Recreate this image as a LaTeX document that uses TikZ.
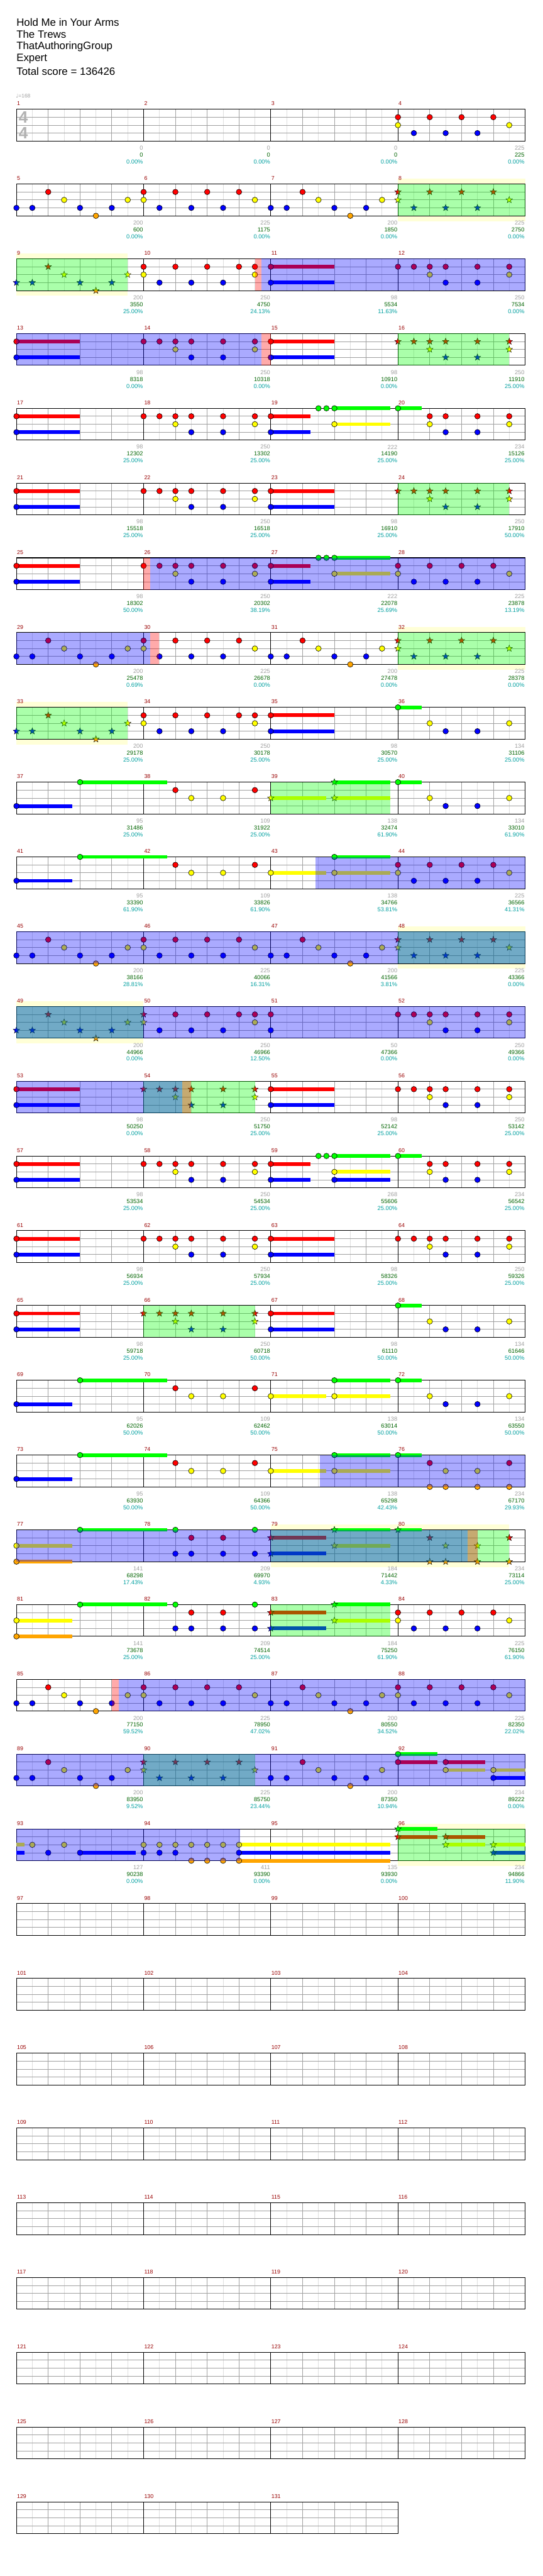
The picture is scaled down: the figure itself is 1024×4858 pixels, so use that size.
\documentclass[tikz,border=0pt]{standalone}
\usepackage{fontspec}
\setmainfont{Liberation Sans}
\newfontfamily\symbfont{DejaVu Sans}

\definecolor{ln0}{RGB}{0,255,0}
\definecolor{ln1}{RGB}{255,0,0}
\definecolor{ln2}{RGB}{255,255,0}
\definecolor{ln3}{RGB}{0,0,255}
\definecolor{ln4}{RGB}{255,165,0}
\definecolor{barnum}{RGB}{153,0,0}
\definecolor{statgray}{RGB}{160,160,160}
\definecolor{statgreen}{RGB}{0,100,0}
\definecolor{statcyan}{RGB}{0,160,160}
\definecolor{gridbeat}{RGB}{160,160,160}
\definecolor{gridhalf}{RGB}{222,222,222}
\definecolor{bandyellow}{RGB}{255,255,215}

\tikzset{
  note/.style={draw=black, line width=0.7pt},
  starnt/.style={draw=black, line width=0.5pt},
  barno/.style={text=barnum, inner sep=0pt, anchor=west, font=\fontsize{10.5}{12}\selectfont},
  statg/.style={text=statgray, inner sep=0pt, anchor=east, font=\fontsize{11}{12}\selectfont},
  stats/.style={text=statgreen, inner sep=0pt, anchor=east, font=\fontsize{11}{12}\selectfont},
  statp/.style={text=statcyan, inner sep=0pt, anchor=east, font=\fontsize{11}{12}\selectfont},
  songinfo/.style={anchor=west, inner sep=0pt, font=\fontsize{20}{24}\selectfont},
}

\newif\ifstarmode
% measure, position in eighths -> \px, \ty (row top)
\newcommand\where[2]{%
  \pgfmathtruncatemacro\rk{div(#1-1,4)}%
  \pgfmathsetmacro\px{31+240*(#1-1-4*\rk)+30*(#2)}%
  \pgfmathsetmacro\ty{206+141*\rk}}
\newcommand\starnote[3]{%
  \filldraw[starnt, fill=#3, shift={(#1,#2)}] (90:6.5pt) -- (126:2.7pt) -- (162:6.5pt)
    -- (198:2.7pt) -- (234:6.5pt) -- (270:2.7pt) -- (306:6.5pt) -- (342:2.7pt)
    -- (18:6.5pt) -- (54:2.7pt) -- cycle;}
% notes: measure, lane, positions
\newcommand\nts[3]{%
  \foreach \p in {#3}{%
    \where{#1}{\p}%
    \pgfmathsetmacro\ny{\ty+15*#2}%
    \ifstarmode\starnote{\px}{\ny}{ln#2}%
    \else\filldraw[note, fill=ln#2] (\px,\ny) circle[radius=5.2pt];\fi}}
% sustain: measure, lane, from, to
\newcommand\sus[4]{%
  \where{#1}{#3}\let\xa\px\where{#1}{#4}\let\xb\px
  \pgfmathsetmacro\ny{\ty+15*#2}%
  \fill[ln#2] (\xa,\ny-3.5) rectangle (\xb,\ny+3.5);}
\newcommand\zone[4]{%
  \where{#2}{#3}\let\xa\px\where{#2}{#4}\let\xb\px
  \fill[#1, opacity=0.333] (\xa,\ty) rectangle (\xb,\ty+60);}
\newcommand\gzone{\zone{ln0}}
\newcommand\bzone{\zone{ln3}}
\newcommand\rzone{\zone{ln1}}
\newcommand\band[3]{%
  \where{#1}{#2}\let\xa\px\where{#1}{#3}\let\xb\px
  \fill[bandyellow] (\xa,\ty-10) rectangle (\xb,\ty+70);}
% staff: row, number of measures
\newcommand\staff[2]{%
  \pgfmathsetmacro\ty{206+141*#1}%
  \pgfmathsetmacro\xe{31+240*#2}%
  \pgfmathtruncatemacro\nq{8*#2-1}%
  \fill[white] (31,\ty) rectangle (\xe,\ty+60);
  \foreach \q in {1,3,...,\nq}{\draw[gridhalf, line width=1pt] (31+30*\q,\ty) -- ++(0,60);}
  \foreach \l in {15,30,45}{\draw[gridbeat, line width=1pt] (31,\ty+\l) -- (\xe,\ty+\l);}
  \foreach \q in {2,4,...,\nq}{%
    \pgfmathtruncatemacro\mm{mod(\q,8)}%
    \ifnum\mm=0 \def\gc{black}\else\def\gc{gridbeat}\fi
    \draw[\gc, line width=1pt] (31+30*\q,\ty) -- ++(0,60);}
  \draw[black, line width=1.2pt] (31,\ty) rectangle (\xe,\ty+60);}

% measure patterns
\newcommand\patA[1]{\nts{#1}{1}{0,2,4,6}\nts{#1}{2}{0,7}\nts{#1}{3}{1,3,5}}
\newcommand\patB[1]{\nts{#1}{3}{0,1,4,6}\nts{#1}{1}{2}\nts{#1}{2}{3,7}\nts{#1}{4}{5}}
\newcommand\patD[1]{\nts{#1}{1}{0,1,2,3,5,7}\nts{#1}{2}{2,7}\nts{#1}{3}{3,5}}
\newcommand\patE[1]{\sus{#1}{1}{0}{4}\sus{#1}{3}{0}{4}\nts{#1}{1}{0}\nts{#1}{3}{0}}
\newcommand\patF[1]{\sus{#1}{1}{0}{2.5}\sus{#1}{3}{0}{2.5}\sus{#1}{0}{4}{7.5}\sus{#1}{2}{4}{7.5}%
  \nts{#1}{1}{0}\nts{#1}{3}{0}\nts{#1}{0}{3,3.5,4}\nts{#1}{2}{4}}
\newcommand\patG[1]{\sus{#1}{0}{0}{1.5}\nts{#1}{0}{0}\nts{#1}{2}{2,7}\nts{#1}{3}{3,5}}
\newcommand\patH[1]{\sus{#1}{3}{0}{3.5}\sus{#1}{0}{4}{9.5}\nts{#1}{3}{0}\nts{#1}{0}{4}}
\newcommand\patI[1]{\nts{#1}{1}{2,7}\nts{#1}{2}{3,5}}
\newcommand\patJ[1]{\sus{#1}{2}{0}{3.5}\sus{#1}{0}{4}{7.5}\sus{#1}{2}{4}{7.5}\nts{#1}{2}{0,4}\nts{#1}{0}{4}}
\newcommand\patK[1]{\sus{#1}{0}{0}{1.5}\nts{#1}{0}{0}\nts{#1}{1}{2,7}\nts{#1}{2}{3,5}\nts{#1}{4}{2,3,5,7}}
\newcommand\patL[1]{\sus{#1}{2}{0}{3.5}\sus{#1}{4}{0}{3.5}\sus{#1}{0}{4}{9.5}\nts{#1}{2}{0}\nts{#1}{4}{0}\nts{#1}{0}{4}}
\newcommand\patM[1]{\nts{#1}{0}{2,7}\nts{#1}{1}{3,5}\nts{#1}{3}{2,3,5,7}}
\newcommand\patN[1]{\sus{#1}{1}{0}{3.5}\sus{#1}{3}{0}{3.5}\sus{#1}{0}{4}{7.5}\sus{#1}{2}{4}{7.5}%
  \nts{#1}{1}{0}\nts{#1}{3}{0}\nts{#1}{0}{4}\nts{#1}{2}{4}}
\newcommand\patP[1]{\sus{#1}{0}{0}{2.5}\sus{#1}{1}{0}{2.5}\sus{#1}{1}{3}{5.5}\sus{#1}{2}{3}{5.5}%
  \sus{#1}{2}{6}{8}\sus{#1}{3}{6}{8}\nts{#1}{0}{0}\nts{#1}{1}{0,3}\nts{#1}{2}{3,6}\nts{#1}{3}{6}}

\begin{document}
\begin{tikzpicture}[x=1pt, y=-1pt]
  \useasboundingbox[fill=white] (0,0) rectangle (1024,4858);

  %% ---------- header ----------
  \node[songinfo] (song)   at (31,42)  {Hold Me in Your Arms};
  \node[songinfo] (artist) at (31,65)  {The Trews};
  \node[songinfo] (author) at (31,88)  {ThatAuthoringGroup};
  \node[songinfo] (level)  at (31,111) {Expert};
  \node[songinfo] (total)  at (31,134) {Total score = 136426};
  \node[anchor=west, inner sep=0pt, text=statgray, font=\fontsize{10}{12}\selectfont]
    (tempo) at (30,181) {{\symbfont ♩}=168};

  %% ---------- row 0 ----------
  \staff{0}{4}
  \node[text=black!30, font=\bfseries\fontsize{31}{31}\selectfont, inner sep=0pt] (tsup) at (44,221) {4};
  \node[text=black!30, font=\bfseries\fontsize{31}{31}\selectfont, inner sep=0pt] (tsdn) at (44,251) {4};
  \patA{4}

  %% ---------- row 1 ----------
  \band{8}{0}{8}
  \staff{1}{4}
  \patB{5}\patA{6}\patB{7}{\starmodetrue\patA{8}}
  \gzone{8}{0}{8}

  %% ---------- row 2 ----------
  \band{9}{0}{7}
  \staff{2}{4}
  {\starmodetrue\patB{9}}\patA{10}\nts{10}{1}{7}\patE{11}\patD{12}
  \gzone{9}{0}{7}\rzone{10}{7}{7.42}\bzone{10}{7.42}{24}

  %% ---------- row 3 ----------
  \staff{3}{4}
  \patE{13}\patD{14}\patE{15}{\starmodetrue\patD{16}}
  \bzone{13}{0}{15.4}\rzone{14}{7.4}{8}\gzone{16}{0}{7}

  %% ---------- row 4 ----------
  \staff{4}{4}
  \patE{17}\patD{18}\patF{19}\patG{20}\nts{20}{1}{2,3,5,7}

  %% ---------- row 5 ----------
  \staff{5}{4}
  \patE{21}\patD{22}\patE{23}{\starmodetrue\patD{24}}
  \gzone{24}{0}{7}

  %% ---------- row 6 ----------
  \staff{6}{4}
  \patE{25}\patD{26}\patF{27}\patA{28}
  \rzone{26}{0}{0.43}\bzone{26}{0.43}{24}

  %% ---------- row 7 ----------
  \band{32}{0}{8}
  \staff{7}{4}
  \patB{29}\patA{30}\patB{31}{\starmodetrue\patA{32}}
  \bzone{29}{0}{8.42}\rzone{30}{0.42}{0.95}\gzone{32}{0}{8}

  %% ---------- row 8 ----------
  \band{33}{0}{7}
  \staff{8}{4}
  {\starmodetrue\patB{33}}\patA{34}\nts{34}{1}{7}\patE{35}\patG{36}
  \gzone{33}{0}{7}

  %% ---------- row 9 ----------
  \staff{9}{4}
  \patH{37}\patI{38}{\starmodetrue\patJ{39}}\patG{40}
  \gzone{39}{0}{7.5}

  %% ---------- row 10 ----------
  \staff{10}{4}
  \patH{41}\patI{42}\patJ{43}\patA{44}
  \bzone{43}{2.8}{16}

  %% ---------- row 11 ----------
  \band{48}{0}{8}
  \staff{11}{4}
  \patB{45}\patA{46}\patB{47}{\starmodetrue\patA{48}}
  \gzone{48}{0}{8}\bzone{45}{0}{32}

  %% ---------- row 12 ----------
  \band{49}{0}{8}
  \staff{12}{4}
  {\starmodetrue\patB{49}\nts{50}{1}{0}\nts{50}{2}{0}}
  \nts{50}{3}{1,3,5}\nts{50}{1}{2,4,6,7}\nts{50}{2}{7}
  \nts{51}{1}{0}\nts{51}{3}{0}\patD{52}
  \gzone{49}{0}{8}\bzone{49}{0}{32}

  %% ---------- row 13 ----------
  \staff{13}{4}
  \patE{53}{\starmodetrue\patD{54}}\patE{55}\patD{56}
  \gzone{54}{0}{7}\bzone{53}{0}{10.42}\rzone{54}{2.42}{3}

  %% ---------- row 14 ----------
  \staff{14}{4}
  \patE{57}\patD{58}\patF{59}\sus{59}{3}{4}{7.5}\nts{59}{3}{4}
  \patG{60}\nts{60}{1}{2,3,5,7}

  %% ---------- row 15 ----------
  \staff{15}{4}
  \patE{61}\patD{62}\patE{63}\patD{64}

  %% ---------- row 16 ----------
  \staff{16}{4}
  \patE{65}{\starmodetrue\patD{66}}\patE{67}\patG{68}
  \gzone{66}{0}{7}

  %% ---------- row 17 ----------
  \staff{17}{4}
  \patH{69}\patI{70}\patJ{71}\patG{72}

  %% ---------- row 18 ----------
  \staff{18}{4}
  \patH{73}\patI{74}\patJ{75}\patK{76}
  \bzone{75}{3.1}{16}

  %% ---------- row 19 ----------
  \band{79}{0}{15}
  \staff{19}{4}
  \patL{77}\patM{78}{\starmodetrue\patN{79}\patK{80}}
  \gzone{79}{0}{15}\bzone{77}{0}{28.38}\rzone{80}{4.38}{5}

  %% ---------- row 20 ----------
  \staff{20}{4}
  \patL{81}\patM{82}{\starmodetrue\patN{83}}\patA{84}
  \gzone{83}{0}{7.5}

  %% ---------- row 21 ----------
  \staff{21}{4}
  \patB{85}\patA{86}\patB{87}\patA{88}
  \rzone{85}{6}{6.45}\bzone{85}{6.45}{32}

  %% ---------- row 22 ----------
  \staff{22}{4}
  \patB{89}{\starmodetrue\patA{90}}\patB{91}\patP{92}
  \gzone{90}{0}{7}\bzone{89}{0}{32}

  %% ---------- row 23 ----------
  \band{96}{0}{8}
  \staff{23}{4}
  \sus{93}{2}{0}{0.5}\sus{93}{3}{0}{0.5}\sus{93}{3}{4}{7.5}\nts{93}{2}{1,3}\nts{93}{3}{2,4}
  \sus{94}{2}{6}{15.5}\sus{94}{3}{6}{15.5}\sus{94}{4}{6}{15.5}
  \nts{94}{2}{0,1,2,3,4,5,6}\nts{94}{3}{0,1,2,6}\nts{94}{4}{3,4,5,6}
  {\starmodetrue\patP{96}}
  \gzone{96}{0}{8}\bzone{93}{0}{14.05}

  %% ---------- rows 24-32 ----------
  \foreach \r in {24,...,31}{\staff{\r}{4}}
  \staff{32}{3}

  %% ---------- measure numbers and scores ----------
  \foreach \m in {1,...,131}{%
    \where{\m}{0}%
    \node[barno] (num\m) at (\px+1,\ty-10.5) {\m};}
  \foreach \m/\g/\s/\c in {1/0/0/0.00, 2/0/0/0.00, 3/0/0/0.00, 4/225/225/0.00,
      5/200/600/0.00, 6/225/1175/0.00, 7/200/1850/0.00, 8/225/2750/0.00,
      9/200/3550/25.00, 10/250/4750/24.13, 11/98/5534/11.63, 12/250/7534/0.00,
      13/98/8318/0.00, 14/250/10318/0.00, 15/98/10910/0.00, 16/250/11910/25.00,
      17/98/12302/25.00, 18/250/13302/25.00, 19/222/14190/25.00, 20/234/15126/25.00,
      21/98/15518/25.00, 22/250/16518/25.00, 23/98/16910/25.00, 24/250/17910/50.00,
      25/98/18302/50.00, 26/250/20302/38.19, 27/222/22078/25.69, 28/225/23878/13.19,
      29/200/25478/0.69, 30/225/26678/0.00, 31/200/27478/0.00, 32/225/28378/0.00,
      33/200/29178/25.00, 34/250/30178/25.00, 35/98/30570/25.00, 36/134/31106/25.00,
      37/95/31486/25.00, 38/109/31922/25.00, 39/138/32474/61.90, 40/134/33010/61.90,
      41/95/33390/61.90, 42/109/33826/61.90, 43/138/34766/53.81, 44/225/36566/41.31,
      45/200/38166/28.81, 46/225/40066/16.31, 47/200/41566/3.81, 48/225/43366/0.00,
      49/200/44966/0.00, 50/250/46966/12.50, 51/50/47366/0.00, 52/250/49366/0.00,
      53/98/50250/0.00, 54/250/51750/25.00, 55/98/52142/25.00, 56/250/53142/25.00,
      57/98/53534/25.00, 58/250/54534/25.00, 59/268/55606/25.00, 60/234/56542/25.00,
      61/98/56934/25.00, 62/250/57934/25.00, 63/98/58326/25.00, 64/250/59326/25.00,
      65/98/59718/25.00, 66/250/60718/50.00, 67/98/61110/50.00, 68/134/61646/50.00,
      69/95/62026/50.00, 70/109/62462/50.00, 71/138/63014/50.00, 72/134/63550/50.00,
      73/95/63930/50.00, 74/109/64366/50.00, 75/138/65298/42.43, 76/234/67170/29.93,
      77/141/68298/17.43, 78/209/69970/4.93, 79/184/71442/4.33, 80/234/73114/25.00,
      81/141/73678/25.00, 82/209/74514/25.00, 83/184/75250/61.90, 84/225/76150/61.90,
      85/200/77150/59.52, 86/225/78950/47.02, 87/200/80550/34.52, 88/225/82350/22.02,
      89/200/83950/9.52, 90/225/85750/23.44, 91/200/87350/10.94, 92/234/89222/0.00,
      93/127/90238/0.00, 94/411/93390/0.00, 95/135/93930/0.00, 96/234/94866/11.90}{%
    \where{\m}{8}%
    \node[statg] (gain\m) at (\px-1,\ty+73) {\g};
    \node[stats] (pts\m)  at (\px-1,\ty+86) {\s};
    \node[statp] (pct\m)  at (\px-1,\ty+99) {\c\%};}
\end{tikzpicture}
\end{document}
